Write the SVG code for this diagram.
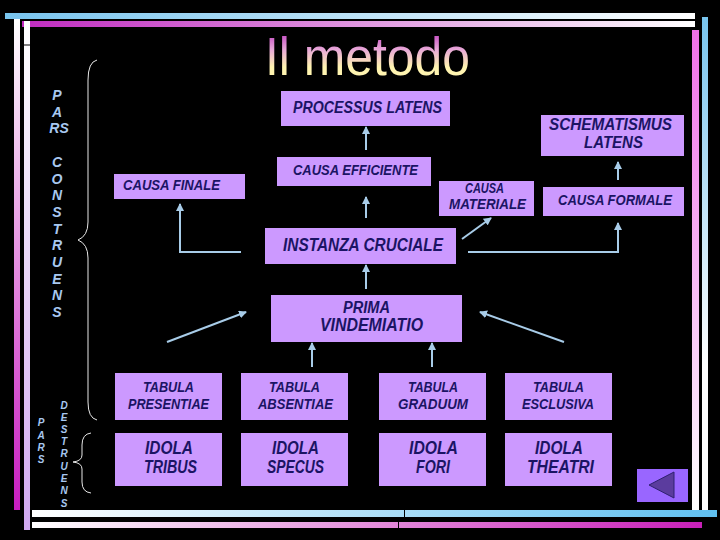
<svg xmlns="http://www.w3.org/2000/svg" width="720" height="540" viewBox="0 0 720 540">
<defs>
<linearGradient id="gTop1" x1="0" y1="0" x2="1" y2="0"><stop offset="0" stop-color="#78c4ee"/><stop offset="1" stop-color="#ffffff"/></linearGradient>
<linearGradient id="gTop2" x1="0" y1="0" x2="1" y2="0"><stop offset="0" stop-color="#c02cc0"/><stop offset="1" stop-color="#ffffff"/></linearGradient>
<linearGradient id="gLeft1" x1="0" y1="0" x2="0" y2="1"><stop offset="0" stop-color="#ffffff"/><stop offset="1" stop-color="#c81cc0"/></linearGradient>
<linearGradient id="gLeft2" x1="0" y1="0" x2="0" y2="1"><stop offset="0" stop-color="#ffffff"/><stop offset="1" stop-color="#d0a8f0"/></linearGradient>
<linearGradient id="gRight1" x1="0" y1="0" x2="0" y2="1"><stop offset="0" stop-color="#f070e8"/><stop offset="1" stop-color="#ffffff"/></linearGradient>
<linearGradient id="gRight2" x1="0" y1="0" x2="0" y2="1"><stop offset="0" stop-color="#78c4ee"/><stop offset="0.7" stop-color="#ffffff"/><stop offset="1" stop-color="#ffffff"/></linearGradient>
<linearGradient id="gBot1" x1="0" y1="0" x2="1" y2="0"><stop offset="0" stop-color="#ffffff"/><stop offset="1" stop-color="#60c0f0"/></linearGradient>
<linearGradient id="gBot2" x1="0" y1="0" x2="1" y2="0"><stop offset="0" stop-color="#ffffff"/><stop offset="1" stop-color="#c820b8"/></linearGradient>
<linearGradient id="gTitle" gradientUnits="userSpaceOnUse" x1="0" y1="32" x2="0" y2="76"><stop offset="0" stop-color="#c040c0"/><stop offset="0.4" stop-color="#e8a8d8"/><stop offset="0.8" stop-color="#fff4b0"/><stop offset="1" stop-color="#fff4b0"/></linearGradient>
<marker id="ah" markerUnits="userSpaceOnUse" markerWidth="8" markerHeight="8" refX="7" refY="4" orient="auto"><path d="M0,0 L8,4 L0,8 z" fill="#a8cce8"/></marker>
</defs>
<style>
.box{fill:#cc99ff;}
.t{font-family:"Liberation Sans",Arial,sans-serif;font-style:italic;font-weight:bold;fill:#1b1464;}
.side{font-family:"Liberation Sans",Arial,sans-serif;font-style:italic;font-weight:bold;fill:#a8c8f0;text-anchor:middle;}
.c{stroke:#a8cce8;stroke-width:2;fill:none;marker-end:url(#ah);}
.brace{stroke:#e8e8e8;stroke-width:1;fill:none;}
</style>
<rect x="0" y="0" width="720" height="540" fill="#000000"/>

<g id="frame">
<rect x="5" y="13" width="690" height="6" fill="url(#gTop1)"/>
<rect x="22" y="21" width="673" height="6" fill="url(#gTop2)"/>
<rect x="14" y="19" width="6" height="491" fill="url(#gLeft1)"/>
<rect x="24" y="21" width="6" height="509" fill="url(#gLeft2)"/>
<rect x="24" y="44.5" width="6" height="1" fill="#000000"/>
<rect x="692" y="30" width="7" height="482" fill="url(#gRight1)"/>
<rect x="702" y="17" width="6" height="500" fill="url(#gRight2)"/>
<rect x="32" y="510" width="685" height="7" fill="url(#gBot1)"/>
<rect x="32" y="522" width="670" height="6" fill="url(#gBot2)"/>
<rect x="404" y="510" width="1" height="7" fill="#000000"/>
<rect x="398" y="522" width="1" height="6" fill="#000000"/>
</g>

<g id="title">
<text x="265" y="75" font-family="'Liberation Sans',Arial,sans-serif" font-size="54" fill="url(#gTitle)" textLength="205" lengthAdjust="spacingAndGlyphs">Il metodo</text>
</g>

<g id="labels">
<text class="side" x="57" y="100" font-size="14">P</text>
<text class="side" x="57" y="117" font-size="14">A</text>
<text class="side" x="59" y="133" font-size="14">RS</text>
<text class="side" x="57" y="167" font-size="14">C</text>
<text class="side" x="57" y="184" font-size="14">O</text>
<text class="side" x="57" y="200" font-size="14">N</text>
<text class="side" x="57" y="217" font-size="14">S</text>
<text class="side" x="57" y="234" font-size="14">T</text>
<text class="side" x="57" y="250" font-size="14">R</text>
<text class="side" x="57" y="267" font-size="14">U</text>
<text class="side" x="57" y="284" font-size="14">E</text>
<text class="side" x="57" y="300" font-size="14">N</text>
<text class="side" x="57" y="317" font-size="14">S</text>
<text class="side" x="41" y="426" font-size="10">P</text>
<text class="side" x="41" y="439" font-size="10">A</text>
<text class="side" x="41" y="451" font-size="10">R</text>
<text class="side" x="41" y="463" font-size="10">S</text>
<text class="side" x="64" y="409" font-size="10">D</text>
<text class="side" x="64" y="421" font-size="10">E</text>
<text class="side" x="64" y="433" font-size="10">S</text>
<text class="side" x="64" y="445" font-size="10">T</text>
<text class="side" x="64" y="457" font-size="10">R</text>
<text class="side" x="64" y="470" font-size="10">U</text>
<text class="side" x="64" y="482" font-size="10">E</text>
<text class="side" x="64" y="494" font-size="10">N</text>
<text class="side" x="64" y="507" font-size="10">S</text>
</g>

<g id="braces">
<path class="brace" d="M97,60 Q88,62 88,80 L88,222 Q88,236 78,240 Q88,244 88,258 L88,402 Q88,418 97,420"/>
<path class="brace" d="M91,433 Q82,434 82,445 L82,455 Q82,461 73,462 Q82,463 82,469 L82,482 Q82,492 91,493"/>
</g>

<g id="connectors">
<line class="c" x1="366" y1="150" x2="366" y2="127"/>
<line class="c" x1="366" y1="218" x2="366" y2="197"/>
<line class="c" x1="366" y1="289" x2="366" y2="265"/>
<polyline class="c" points="241,252 180,252 180,204"/>
<line class="c" x1="462" y1="239" x2="491" y2="218"/>
<polyline class="c" points="468,252 618,252 618,223"/>
<line class="c" x1="618" y1="180" x2="618" y2="162"/>
<line class="c" x1="167" y1="342" x2="246" y2="312"/>
<line class="c" x1="564" y1="342" x2="480" y2="312"/>
<line class="c" x1="312" y1="367" x2="312" y2="343"/>
<line class="c" x1="432" y1="367" x2="432" y2="343"/>
</g>

<g id="processus-latens">
<rect class="box" x="281" y="91" width="169" height="35"/>
<text class="t" x="293" y="113" font-size="16" textLength="149" lengthAdjust="spacingAndGlyphs">PROCESSUS LATENS</text>
</g>
<g id="schematismus-latens">
<rect class="box" x="541" y="115" width="143" height="41"/>
<text class="t" x="549" y="130" font-size="17" textLength="123" lengthAdjust="spacingAndGlyphs">SCHEMATISMUS</text>
<text class="t" x="584" y="148" font-size="17" textLength="59" lengthAdjust="spacingAndGlyphs">LATENS</text>
</g>
<g id="causa-efficiente">
<rect class="box" x="277" y="157" width="154" height="29"/>
<text class="t" x="293" y="175" font-size="14" textLength="125" lengthAdjust="spacingAndGlyphs">CAUSA EFFICIENTE</text>
</g>
<g id="causa-finale">
<rect class="box" x="114" y="174" width="131" height="25"/>
<text class="t" x="123" y="190" font-size="15" textLength="97" lengthAdjust="spacingAndGlyphs">CAUSA FINALE</text>
</g>
<g id="causa-materiale">
<rect class="box" x="439" y="181" width="95" height="35"/>
<text class="t" x="465" y="193" font-size="14" textLength="39" lengthAdjust="spacingAndGlyphs">CAUSA</text>
<text class="t" x="449" y="209" font-size="15" textLength="77" lengthAdjust="spacingAndGlyphs">MATERIALE</text>
</g>
<g id="causa-formale">
<rect class="box" x="543" y="187" width="141" height="29"/>
<text class="t" x="558" y="205" font-size="15" textLength="114" lengthAdjust="spacingAndGlyphs">CAUSA FORMALE</text>
</g>
<g id="instanza-cruciale">
<rect class="box" x="265" y="228" width="191" height="36"/>
<text class="t" x="283" y="251" font-size="18" textLength="160" lengthAdjust="spacingAndGlyphs">INSTANZA CRUCIALE</text>
</g>
<g id="prima-vindemiatio">
<rect class="box" x="271" y="295" width="191" height="47"/>
<text class="t" x="343" y="313" font-size="16" textLength="47" lengthAdjust="spacingAndGlyphs">PRIMA</text>
<text class="t" x="320" y="331" font-size="18" textLength="103" lengthAdjust="spacingAndGlyphs">VINDEMIATIO</text>
</g>
<g id="tabula-presentiae">
<rect class="box" x="115" y="373" width="107" height="47"/>
<text class="t" x="143" y="392" font-size="15" textLength="51" lengthAdjust="spacingAndGlyphs">TABULA</text>
<text class="t" x="128" y="409" font-size="15" textLength="81" lengthAdjust="spacingAndGlyphs">PRESENTIAE</text>
</g>
<g id="tabula-absentiae">
<rect class="box" x="241" y="373" width="107" height="47"/>
<text class="t" x="269" y="392" font-size="15" textLength="51" lengthAdjust="spacingAndGlyphs">TABULA</text>
<text class="t" x="258" y="409" font-size="15" textLength="75" lengthAdjust="spacingAndGlyphs">ABSENTIAE</text>
</g>
<g id="tabula-graduum">
<rect class="box" x="379" y="373" width="107" height="47"/>
<text class="t" x="408" y="392" font-size="15" textLength="50" lengthAdjust="spacingAndGlyphs">TABULA</text>
<text class="t" x="398" y="409" font-size="15" textLength="70" lengthAdjust="spacingAndGlyphs">GRADUUM</text>
</g>
<g id="tabula-esclusiva">
<rect class="box" x="505" y="373" width="107" height="47"/>
<text class="t" x="533" y="392" font-size="15" textLength="51" lengthAdjust="spacingAndGlyphs">TABULA</text>
<text class="t" x="522" y="409" font-size="15" textLength="72" lengthAdjust="spacingAndGlyphs">ESCLUSIVA</text>
</g>
<g id="idola-tribus">
<rect class="box" x="115" y="433" width="107" height="53"/>
<text class="t" x="145" y="454" font-size="18" textLength="48" lengthAdjust="spacingAndGlyphs">IDOLA</text>
<text class="t" x="144" y="473" font-size="18" textLength="53" lengthAdjust="spacingAndGlyphs">TRIBUS</text>
</g>
<g id="idola-specus">
<rect class="box" x="241" y="433" width="107" height="53"/>
<text class="t" x="272" y="454" font-size="18" textLength="47" lengthAdjust="spacingAndGlyphs">IDOLA</text>
<text class="t" x="267" y="473" font-size="18" textLength="57" lengthAdjust="spacingAndGlyphs">SPECUS</text>
</g>
<g id="idola-fori">
<rect class="box" x="379" y="433" width="107" height="53"/>
<text class="t" x="409" y="454" font-size="18" textLength="49" lengthAdjust="spacingAndGlyphs">IDOLA</text>
<text class="t" x="416" y="473" font-size="18" textLength="34" lengthAdjust="spacingAndGlyphs">FORI</text>
</g>
<g id="idola-theatri">
<rect class="box" x="505" y="433" width="107" height="53"/>
<text class="t" x="535" y="454" font-size="18" textLength="48" lengthAdjust="spacingAndGlyphs">IDOLA</text>
<text class="t" x="527" y="473" font-size="18" textLength="67" lengthAdjust="spacingAndGlyphs">THEATRI</text>
</g>
<g id="back-button">
<rect x="637" y="469" width="51" height="33" fill="#9966ff"/>
<polygon points="649,485 674,472 674,498" fill="#5b3c9e" stroke="#2e2070" stroke-width="1"/>
</g>
</svg>
